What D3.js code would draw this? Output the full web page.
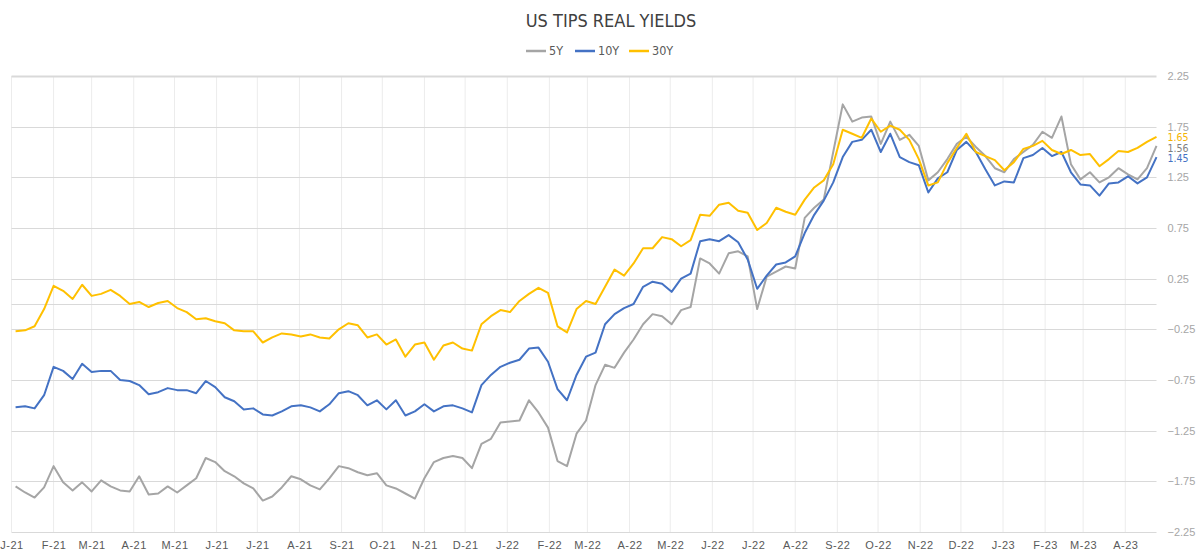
<!DOCTYPE html>
<html>
<head>
<meta charset="utf-8">
<script src="https://cdn.jsdelivr.net/npm/d3@7"></script>
<style>
    body { margin: 0; background: #fff; }
    svg { display: block; font-family: "Liberation Sans Narrow", "DejaVu Sans Condensed", Roboto, sans-serif; }
</style>
</head>
<body>
<div id="container"></div>
<script>
// weekly readings (Mondays) from the first week of 2021 to late April 2023
const firstWeek = "2021-01-04"
const axisStart = "2021-01-01"
const axisEnd = "2023-04-24"

const seriesNames = ["5Y", "10Y", "30Y"]
const seriesColors = ["#a5a5a5", "#4472c4", "#ffc000"]

const yields5y = [
    -1.80, -1.86, -1.91, -1.81, -1.60, -1.76, -1.84, -1.76, -1.85, -1.74,
    -1.80, -1.84, -1.85, -1.70, -1.88, -1.87, -1.80, -1.86, -1.79, -1.72,
    -1.52, -1.56, -1.65, -1.70, -1.77, -1.82, -1.94, -1.90, -1.81, -1.70,
    -1.73, -1.79, -1.83, -1.72, -1.60, -1.62, -1.66, -1.69, -1.67, -1.79,
    -1.82, -1.87, -1.92, -1.72, -1.56, -1.52, -1.50, -1.52, -1.62, -1.38,
    -1.33, -1.17, -1.16, -1.15, -0.95, -1.07, -1.22, -1.55, -1.60, -1.28,
    -1.15, -0.80, -0.60, -0.63, -0.48, -0.35, -0.20, -0.10, -0.12, -0.20,
    -0.06, -0.03, 0.45, 0.40, 0.30, 0.50, 0.52, 0.47, -0.05, 0.27,
    0.32, 0.37, 0.35, 0.85, 0.95, 1.03, 1.50, 1.97, 1.80, 1.84,
    1.85, 1.58, 1.80, 1.62, 1.67, 1.56, 1.22, 1.30, 1.43, 1.58,
    1.65, 1.55, 1.46, 1.34, 1.30, 1.43, 1.50, 1.57, 1.70, 1.64,
    1.85, 1.38, 1.23, 1.30, 1.20, 1.25, 1.34, 1.28, 1.23, 1.34,
    1.56
]
const yields10y = [
    -1.02, -1.01, -1.03, -0.90, -0.62, -0.66, -0.74, -0.59, -0.67, -0.66,
    -0.66, -0.75, -0.76, -0.80, -0.89, -0.87, -0.83, -0.85, -0.85, -0.88,
    -0.76, -0.82, -0.92, -0.96, -1.04, -1.03, -1.09, -1.10, -1.06, -1.01,
    -1.00, -1.02, -1.06, -0.99, -0.88, -0.86, -0.90, -1.00, -0.95, -1.04,
    -0.95, -1.10, -1.06, -0.99, -1.06, -1.01, -1.00, -1.03, -1.07, -0.80,
    -0.70, -0.62, -0.58, -0.55, -0.44, -0.43, -0.57, -0.84, -0.95, -0.70,
    -0.52, -0.48, -0.20, -0.10, -0.04, 0.00, 0.17, 0.22, 0.20, 0.12,
    0.25, 0.30, 0.62, 0.64, 0.62, 0.68, 0.61, 0.44, 0.15, 0.28,
    0.39, 0.41, 0.47, 0.70, 0.88, 1.02, 1.20, 1.45, 1.60, 1.62,
    1.72, 1.50, 1.68, 1.45, 1.40, 1.37, 1.10, 1.24, 1.30, 1.52,
    1.60, 1.50, 1.33, 1.17, 1.21, 1.20, 1.44, 1.47, 1.54, 1.46,
    1.50, 1.30, 1.18, 1.17, 1.07, 1.19, 1.20, 1.26, 1.19, 1.25,
    1.45
]
const yields30y = [
    -0.27, -0.26, -0.22, -0.05, 0.18, 0.13, 0.05, 0.19, 0.08, 0.10,
    0.14, 0.08, 0.00, 0.02, -0.03, 0.01, 0.03, -0.04, -0.08, -0.15,
    -0.14, -0.17, -0.19, -0.26, -0.27, -0.27, -0.38, -0.33, -0.29, -0.30,
    -0.32, -0.30, -0.33, -0.34, -0.25, -0.19, -0.21, -0.33, -0.30, -0.40,
    -0.35, -0.52, -0.40, -0.38, -0.55, -0.41, -0.38, -0.44, -0.46, -0.20,
    -0.12, -0.06, -0.08, 0.03, 0.10, 0.16, 0.11, -0.22, -0.28, -0.05,
    0.03, 0.00, 0.17, 0.34, 0.28, 0.40, 0.55, 0.55, 0.66, 0.64,
    0.57, 0.63, 0.88, 0.87, 0.98, 1.00, 0.92, 0.90, 0.73, 0.80,
    0.95, 0.91, 0.88, 1.03, 1.15, 1.22, 1.38, 1.72, 1.68, 1.64,
    1.83, 1.70, 1.76, 1.72, 1.62, 1.43, 1.17, 1.20, 1.39, 1.54,
    1.68, 1.50, 1.46, 1.42, 1.32, 1.40, 1.53, 1.56, 1.61, 1.52,
    1.48, 1.52, 1.47, 1.48, 1.36, 1.43, 1.51, 1.50, 1.54, 1.60,
    1.65
]

const yTicks = [-2.25, -1.75, -1.25, -0.75, -0.25, 0.25, 0.75, 1.25, 1.75, 2.25]
const lastValues = [1.56, 1.45, 1.65]
const monthLetters = ["J", "F", "M", "A", "M", "J", "J", "A", "S", "O", "N", "D"]

const chart = function () {

    const canvas = {
        width: 1200,
        height: 559,
        left: 11.5,
        right: 1156.5,
        top: 76,
        bottom: 532
    }

    const parse = d3.timeParse("%Y-%m-%d")
    const start = parse(firstWeek)

    const x = d3.scaleTime()
        .domain([parse(axisStart), parse(axisEnd)])
        .range([canvas.left, canvas.right])

    const y = d3.scaleLinear()
        .domain([-2.25, 2.25])
        .range([canvas.bottom, canvas.top])

    /********************* Data ************************/

    function buildSeries() {
        return [yields5y, yields10y, yields30y].map((values, i) => ({
            name: seriesNames[i],
            color: seriesColors[i],
            label: i === 0 ? "#7f7f7f" : i === 2 ? "#f5b400" : seriesColors[i],
            last: lastValues[i],
            points: values.map((v, k) => ({ date: d3.timeDay.offset(start, 7 * k), value: v }))
        }))
    }

    // push end labels apart so they do not collide
    function spreadLabels(data, gap) {
        const sorted = data.slice().sort((a, b) => b.last - a.last)
        sorted.forEach((d, i) => {
            d.labelY = y(d.last)
            if (i > 0 && d.labelY - sorted[i - 1].labelY < gap) d.labelY = sorted[i - 1].labelY + gap
        })
    }

    /********************* Draw ************************/

    function draw(container) {
        const svg = d3.select(container)
            .append("svg")
            .attr("width", canvas.width)
            .attr("height", canvas.height)

        const months = d3.timeMonth.range(parse(axisStart), parse(axisEnd))

        // vertical grid on month starts
        svg.append("g")
            .selectAll("line")
            .data(months).enter()
            .append("line")
            .attr("x1", d => x(d)).attr("x2", d => x(d))
            .attr("y1", canvas.top).attr("y2", canvas.bottom)
            .attr("stroke", "#ececec")
            .attr("stroke-width", 1)

        // horizontal grid + zero line
        svg.append("g")
            .selectAll("line")
            .data(yTicks.concat([0])).enter()
            .append("line")
            .attr("x1", canvas.left).attr("x2", canvas.right)
            .attr("y1", d => Math.round(y(d)) + 0.5).attr("y2", d => Math.round(y(d)) + 0.5)
            .attr("stroke", "#d9d9d9")
            .attr("stroke-width", d => d === 2.25 ? 2 : 1)

        // x axis labels
        const xAxis = d3.axisBottom(x)
            .tickValues(months)
            .tickSize(0)
            .tickPadding(0)
            .tickFormat(d => monthLetters[d.getMonth()] + "-" + d3.timeFormat("%y")(d))

        svg.append("g")
            .attr("transform", `translate(0,${canvas.bottom + 9})`)
            .call(xAxis)
            .call(g => g.select(".domain").remove())
            .selectAll("text")
            .attr("font-family", null)
            .attr("font-size", 11)
            .attr("fill", "#595959")
            .style("letter-spacing", "0.5px")

        // y axis labels on the right
        const yAxis = d3.axisRight(y)
            .tickValues(yTicks)
            .tickSize(0)
            .tickPadding(0)
            .tickFormat(d3.format(".2f"))

        svg.append("g")
            .attr("transform", `translate(${canvas.right + 11},0)`)
            .call(yAxis)
            .call(g => g.select(".domain").remove())
            .selectAll("text")
            .attr("font-family", null)
            .attr("font-size", 11)
            .attr("fill", "#a6a6a6")

        const data = buildSeries()
        spreadLabels(data, 10.5)

        const line = d3.line()
            .x(d => x(d.date))
            .y(d => y(d.value))

        svg.append("g")
            .selectAll("path")
            .data(data).enter()
            .append("path")
            .attr("d", d => line(d.points))
            .attr("fill", "none")
            .attr("stroke", d => d.color)
            .attr("stroke-width", 2)
            .attr("stroke-linejoin", "round")

        // last value labels
        svg.append("g")
            .selectAll("text")
            .data(data).enter()
            .append("text")
            .attr("x", canvas.right + 11)
            .attr("y", d => d.labelY + 1)
            .attr("dy", "0.35em")
            .attr("font-size", 10.5)
            .attr("fill", d => d.label)
            .text(d => d3.format(".2f")(d.last))

        drawTitle(svg)
        drawLegend(svg, data)
    }

    function drawTitle(svg) {
        svg.append("text")
            .attr("x", 611)
            .attr("y", 27)
            .attr("text-anchor", "middle")
            .attr("font-size", 18)
            .attr("fill", "#404040")
            .text("US TIPS REAL YIELDS")
    }

    function drawLegend(svg, data) {
        const offsets = [526, 575, 629]
        const item = svg.append("g")
            .selectAll("g")
            .data(data).enter()
            .append("g")
            .attr("transform", (d, i) => `translate(${offsets[i]},51)`)

        item.append("line")
            .attr("x1", 0).attr("x2", 20)
            .attr("stroke", d => d.color)
            .attr("stroke-width", 2.5)

        item.append("text")
            .attr("x", 23)
            .attr("dy", "0.35em")
            .attr("font-size", 12.5)
            .attr("fill", "#595959")
            .text(d => d.name)
    }

    return { draw }
}()

chart.draw("#container")
</script>
</body>
</html>
